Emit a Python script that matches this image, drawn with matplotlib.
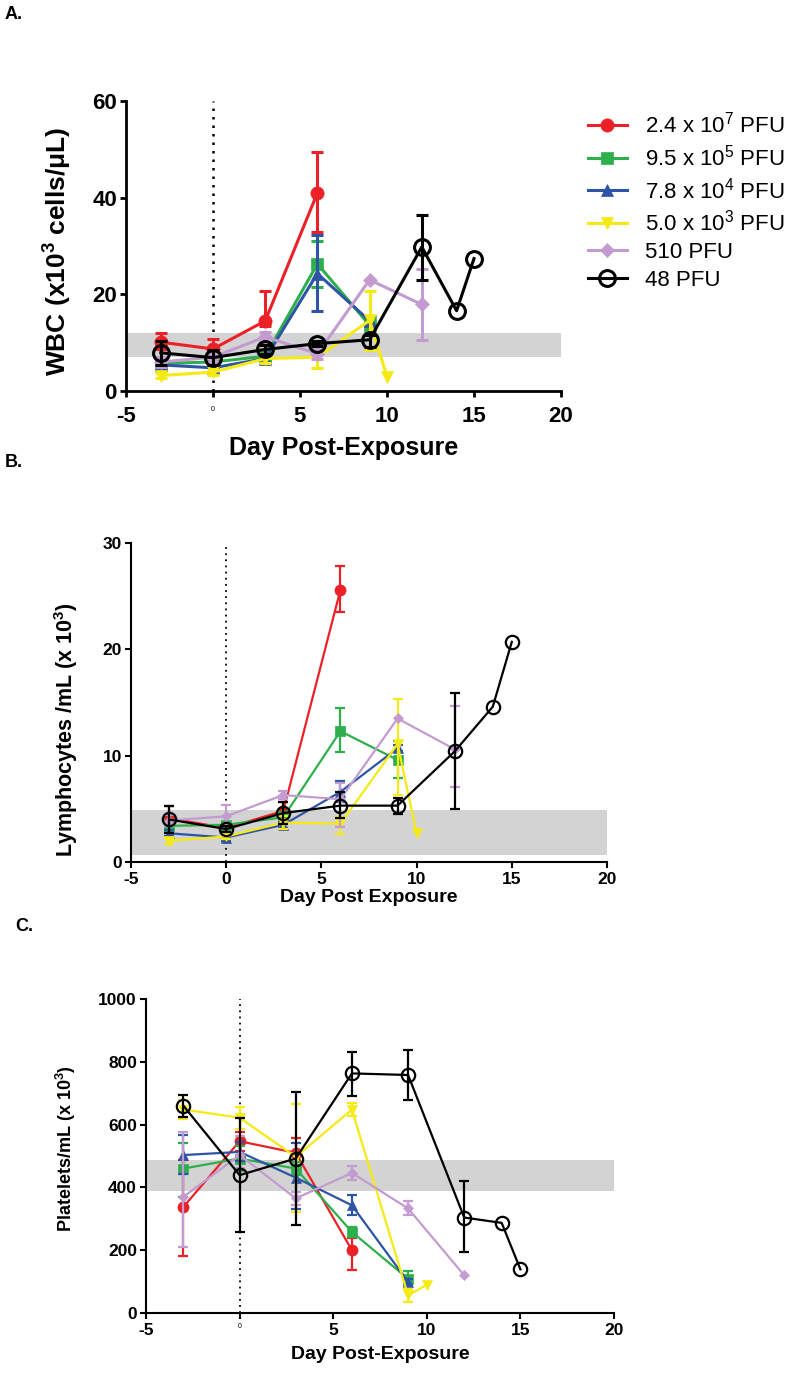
import matplotlib
matplotlib.use('Agg')
import matplotlib.pyplot as plt

plt.rcParams['font.family'] = ['Liberation Sans', 'DejaVu Sans']
plt.rcParams['mathtext.fontset'] = 'custom'
plt.rcParams['mathtext.rm'] = 'Liberation Sans'
plt.rcParams['mathtext.bf'] = 'Liberation Sans:bold'
plt.rcParams['mathtext.it'] = 'Liberation Sans:italic'

# ---------------- data ----------------
series_labels = [r'2.4 x 10$^7$ PFU', r'9.5 x 10$^5$ PFU', r'7.8 x 10$^4$ PFU',
                 r'5.0 x 10$^3$ PFU', '510 PFU', '48 PFU']

days_24e7 = [-3, 0, 3, 6]
days_95e5 = [-3, 0, 3, 6, 9]
days_78e4 = [-3, 0, 3, 6, 9]
days_50e3 = [-3, 0, 3, 6, 9, 10]
days_510 = [-3, 0, 3, 6, 9, 12]
days_48 = [-3, 0, 3, 6, 9, 12, 14, 15]

# WBC (x10^3 cells/uL)
wbc_24e7 = [10.1, 8.7, 14.5, 41.0]
wbc_24e7_lo = [1.5, 1.5, 1.0, 8.2]
wbc_24e7_hi = [1.9, 2.0, 6.1, 8.4]
wbc_95e5 = [5.7, 6.0, 7.2, 26.3, 13.6]
wbc_95e5_lo = [1.0, 1.0, 1.0, 4.8, 1.5]
wbc_95e5_hi = [1.0, 1.0, 1.0, 4.7, 1.5]
wbc_78e4 = [5.4, 4.8, 6.7, 24.3, 14.5]
wbc_78e4_lo = [1.0, 0.8, 1.0, 7.7, 1.0]
wbc_78e4_hi = [1.0, 0.8, 1.0, 7.9, 1.0]
wbc_50e3 = [3.2, 3.9, 6.7, 7.0, 14.6, 3.0]
wbc_50e3_lo = [0.5, 0.5, 1.0, 2.2, 6.2, 0.0]
wbc_50e3_hi = [0.5, 0.5, 1.0, 1.5, 6.1, 0.0]
wbc_510 = [6.0, 7.0, 11.2, 7.7, 23.0, 17.9]
wbc_510_lo = [1.0, 1.0, 1.0, 1.0, 0.0, 7.3]
wbc_510_hi = [1.0, 1.0, 1.0, 1.0, 0.0, 7.4]
wbc_48 = [7.9, 6.9, 8.6, 9.8, 10.6, 29.8, 16.6, 27.4]
wbc_48_lo = [2.6, 1.5, 1.0, 0.5, 1.5, 6.8, 0.0, 0.0]
wbc_48_hi = [2.4, 1.5, 1.0, 0.5, 1.0, 6.7, 0.0, 0.0]
wbc_band = [7.0, 11.9]

# Lymphocytes /mL (x 10^3)
lym_24e7 = [4.1, 3.2, 4.8, 25.6]
lym_24e7_lo = [1.2, 0.3, 0.8, 2.1]
lym_24e7_hi = [1.2, 0.3, 0.8, 2.2]
lym_95e5 = [3.4, 3.5, 4.2, 12.3, 9.6]
lym_95e5_lo = [0.5, 0.3, 0.5, 2.0, 1.7]
lym_95e5_hi = [0.5, 0.3, 0.5, 2.2, 1.8]
lym_78e4 = [2.7, 2.3, 3.5, 6.6, 10.7]
lym_78e4_lo = [0.3, 0.3, 0.3, 1.0, 0.3]
lym_78e4_hi = [0.3, 0.3, 0.3, 1.0, 0.3]
lym_50e3 = [2.0, 2.4, 3.7, 3.6, 11.1, 2.7]
lym_50e3_lo = [0.3, 0.2, 0.6, 1.0, 4.8, 0.0]
lym_50e3_hi = [0.3, 0.2, 0.6, 0.6, 4.2, 0.0]
lym_510 = [3.9, 4.3, 6.3, 5.9, 13.5, 10.6]
lym_510_lo = [0.5, 1.1, 0.4, 2.6, 0.0, 3.5]
lym_510_hi = [0.5, 1.1, 0.4, 1.5, 0.0, 4.1]
lym_48 = [4.0, 3.1, 4.6, 5.3, 5.3, 10.4, 14.6, 20.7]
lym_48_lo = [1.3, 0.3, 1.0, 1.2, 0.8, 5.4, 0.0, 0.0]
lym_48_hi = [1.3, 0.3, 1.0, 1.3, 0.7, 5.5, 0.0, 0.0]
lym_band = [0.7, 4.9]

# Platelets/mL (x 10^3)
plt_24e7 = [338, 547, 510, 200]
plt_24e7_lo = [155, 30, 40, 62]
plt_24e7_hi = [150, 30, 46, 40]
plt_95e5 = [460, 492, 460, 258, 109]
plt_95e5_lo = [90, 40, 20, 15, 20]
plt_95e5_hi = [80, 40, 20, 15, 25]
plt_78e4 = [503, 513, 431, 343, 99]
plt_78e4_lo = [60, 30, 100, 30, 10]
plt_78e4_hi = [63, 30, 110, 34, 10]
plt_50e3 = [648, 622, 497, 648, 56, 90]
plt_50e3_lo = [30, 35, 175, 20, 21, 0]
plt_50e3_hi = [30, 35, 168, 20, 20, 0]
plt_510 = [370, 503, 365, 446, 333, 120]
plt_510_lo = [160, 40, 20, 23, 22, 0]
plt_510_hi = [207, 60, 20, 22, 24, 0]
plt_48 = [660, 439, 492, 763, 758, 304, 287, 139]
plt_48_lo = [35, 181, 212, 71, 80, 110, 0, 0]
plt_48_hi = [34, 181, 213, 69, 79, 116, 0, 0]
plt_band = [389, 487]

x_ticks = [-5, 0, 5, 10, 15, 20]

# ---------------- styles ----------------
colors = ['#EC2027', '#2DB04B', '#2E55A5', '#F5EA14', '#C39BD0', '#000000']
markers = ['o', 's', '^', 'v', 'D', 'o']
msize_scale = [1.0, 0.95, 0.95, 0.95, 0.7, 1.2]

days_all = [days_24e7, days_95e5, days_78e4, days_50e3, days_510, days_48]

W, H = 800, 1374
fig = plt.figure(figsize=(8.0, 13.74), dpi=100)


def axes_px(left, top, right, bottom):
    return fig.add_axes([left / W, 1 - bottom / H, (right - left) / W, (bottom - top) / H])


def draw_panel(ax, vals, los, his, band, ylim, yticks, ylabel, xlabel,
               tick_fs, ylab_fs, xlab_fs, lw, ms, spine_w, tiny_zero, dot_lw, xpad):
    ax.axhspan(band[0], band[1], color='#D3D3D3', lw=0, zorder=0)
    ax.axvline(0, color='black', lw=dot_lw, ls=(0, (1, 2.4)), zorder=1)
    handles = []
    for i in range(6):
        d = days_all[i]
        c = colors[i]
        open_m = (i == 5)
        keep = [j for j in range(len(d)) if los[i][j] > 0 or his[i][j] > 0]
        ex = [d[j] for j in keep]
        ey = [vals[i][j] for j in keep]
        elo = [los[i][j] for j in keep]
        ehi = [his[i][j] for j in keep]
        ax.errorbar(ex, ey, yerr=[elo, ehi], fmt='none', ecolor=c, elinewidth=lw,
                    capsize=ms * 0.45, capthick=lw, zorder=2 + i * 2, clip_on=False)
        ln, = ax.plot(d, vals[i], color=c, lw=lw, marker=markers[i],
                      ms=ms * msize_scale[i],
                      mfc='none' if open_m else c, mec=c,
                      mew=lw if open_m else 0.5, zorder=3 + i * 2, clip_on=False)
        handles.append(ln)
    ax.set_xlim(-5, 20)
    ax.set_ylim(*ylim)
    ax.set_xticks(x_ticks)
    ax.set_xticklabels([str(t) for t in x_ticks])
    ax.set_yticks(yticks)
    ax.set_yticklabels([str(t) for t in yticks])
    for s in ['top', 'right']:
        ax.spines[s].set_visible(False)
    for s in ['left', 'bottom']:
        ax.spines[s].set_linewidth(spine_w)
    ax.tick_params(direction='out', length=4.5, width=spine_w, labelsize=tick_fs, pad=2)
    ax.tick_params(axis='x', pad=xpad)
    for t in ax.get_xticklabels() + ax.get_yticklabels():
        t.set_fontweight('bold')
    if tiny_zero:
        z = ax.get_xticklabels()[1]
        z.set_fontsize(5)
        z.set_fontweight('normal')
    ax.set_ylabel(ylabel, fontsize=ylab_fs, fontweight='bold')
    ax.set_xlabel(xlabel, fontsize=xlab_fs, fontweight='bold')
    return handles


# Panel A
axA = axes_px(126, 101, 561, 391)
hA = draw_panel(axA,
                [wbc_24e7, wbc_95e5, wbc_78e4, wbc_50e3, wbc_510, wbc_48],
                [wbc_24e7_lo, wbc_95e5_lo, wbc_78e4_lo, wbc_50e3_lo, wbc_510_lo, wbc_48_lo],
                [wbc_24e7_hi, wbc_95e5_hi, wbc_78e4_hi, wbc_50e3_hi, wbc_510_hi, wbc_48_hi],
                wbc_band, (0, 60), [0, 20, 40, 60],
                r'WBC (x10$^{\mathbf{3}}$ cells/μL)', 'Day Post-Exposure',
                tick_fs=16, ylab_fs=19, xlab_fs=18, lw=2.2, ms=9.5, spine_w=2.0,
                tiny_zero=True, dot_lw=1.8, xpad=6)
axA.yaxis.set_label_coords(-0.12, 0.48)
axA.xaxis.set_label_coords(0.5, -0.155)

# Panel B
axB = axes_px(131, 543, 607, 862)
draw_panel(axB,
           [lym_24e7, lym_95e5, lym_78e4, lym_50e3, lym_510, lym_48],
           [lym_24e7_lo, lym_95e5_lo, lym_78e4_lo, lym_50e3_lo, lym_510_lo, lym_48_lo],
           [lym_24e7_hi, lym_95e5_hi, lym_78e4_hi, lym_50e3_hi, lym_510_hi, lym_48_hi],
           lym_band, (0, 30), [0, 10, 20, 30],
           r'Lymphocytes /mL (x 10$^{\mathbf{3}}$)', 'Day Post Exposure',
           tick_fs=12.5, ylab_fs=15.5, xlab_fs=14, lw=1.6, ms=8.0, spine_w=1.5,
           tiny_zero=False, dot_lw=1.3, xpad=3)
axB.yaxis.set_label_coords(-0.107, 0.414)
axB.xaxis.set_label_coords(0.5, -0.085)

# Panel C
axC = axes_px(146, 999, 614, 1313)
draw_panel(axC,
           [plt_24e7, plt_95e5, plt_78e4, plt_50e3, plt_510, plt_48],
           [plt_24e7_lo, plt_95e5_lo, plt_78e4_lo, plt_50e3_lo, plt_510_lo, plt_48_lo],
           [plt_24e7_hi, plt_95e5_hi, plt_78e4_hi, plt_50e3_hi, plt_510_hi, plt_48_hi],
           plt_band, (0, 1000), [0, 200, 400, 600, 800, 1000],
           r'Platelets/mL (x 10$^{\mathbf{3}}$)', 'Day Post-Exposure',
           tick_fs=12.5, ylab_fs=13, xlab_fs=14, lw=1.6, ms=8.0, spine_w=1.5,
           tiny_zero=True, dot_lw=1.3, xpad=3)
axC.yaxis.set_label_coords(-0.145, 0.525)
axC.xaxis.set_label_coords(0.5, -0.105)

# Legend
fig.legend(hA, series_labels, loc='upper left', bbox_to_anchor=(588 / W, 1 - 112 / H),
           frameon=False, fontsize=16, handlelength=1.75, handletextpad=0.8,
           labelspacing=0.3, borderaxespad=0, borderpad=0)

# Panel letters
fig.text(5 / W, 1 - 6 / H, 'A.', fontsize=13, fontweight='bold', va='top', ha='left')
fig.text(5 / W, 1 - 454 / H, 'B.', fontsize=13, fontweight='bold', va='top', ha='left')
fig.text(15 / W, 1 - 918 / H, 'C.', fontsize=13, fontweight='bold', va='top', ha='left')

fig.savefig('out.png', dpi=100)
